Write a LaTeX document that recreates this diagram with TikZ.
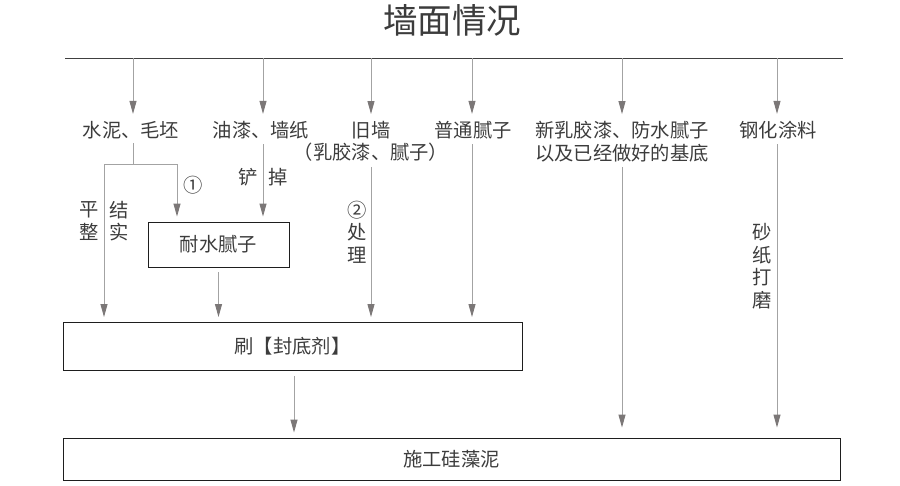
\documentclass[tikz,border=0pt]{standalone}
\usepackage{fontspec}
\setmainfont{Noto Sans CJK SC}
\usetikzlibrary{arrows.meta,calc,positioning}
\definecolor{lineCol}{HTML}{A3A3A3}
\definecolor{tipCol}{HTML}{7B7777}
\definecolor{txtCol}{HTML}{3C3C3C}
\definecolor{boxCol}{HTML}{1E1E1E}
\tikzset{
  lbl/.style={font=\fontsize{19.3}{22.5}\selectfont, text=txtCol, align=center, inner sep=2pt},
  side/.style={lbl, inner sep=0pt},
  box/.style={draw=boxCol, line width=0.9pt, lbl},
  link/.style={lineCol, line width=0.9pt},
  arr/.style={link, -{Triangle[length=13pt,width=7pt,color=tipCol]}, shorten >=5pt},
  topline/.style={draw=boxCol!85, line width=1pt},
}

\begin{document}
\begin{tikzpicture}[x=1pt,y=-1pt]
  \useasboundingbox (0,0) rectangle (900,485);
  % title and top rail
  \node[lbl, font=\fontsize{34.5}{40}\selectfont] (title) at (452,20) {墙面情况};
  \coordinate (topL) at (65,58);
  \coordinate (topR) at (843,58);
  \draw[topline] (topL) -- (topR);
  \coordinate (t1) at (133,58);
  \coordinate (t2) at (263,58);
  \coordinate (t3) at (371,58);
  \coordinate (t4) at (472,58);
  \coordinate (t5) at (622,58);
  \coordinate (t6) at (777,58);

  % wall types
  \node[lbl] (cement)  at (131,130) {水泥、毛坯};
  \node[lbl] (painted) at (261,130) {油漆、墙纸};
  \node[lbl] (oldwall) at (371,141.5) {旧墙\\（乳胶漆、腻子）};
  \node[lbl] (putty)   at (473,130) {普通腻子};
  \node[lbl] (latex)   at (622,141.5) {新乳胶漆、防水腻子\\以及已经做好的基底};
  \node[lbl] (steel)   at (778,130) {钢化涂料};

  % boxes
  \node[box, minimum width=141pt, minimum height=45pt] (wpputty) at (218.5,244.5) {耐水腻子};
  \node[box, minimum width=459pt, minimum height=48pt] (sealer)  at (292.5,346.5) {刷【封底剂】};
  \node[box, minimum width=777pt, minimum height=42pt] (diatom)  at (451.5,459) {施工硅藻泥};

  % step notes
  \node[side] (flat)   at (89,221)  {平\\整};
  \node[side] (solid)  at (119,221) {结\\实};
  \node[side] (stepA)  at (193,185) {①};
  \node[side] (scrapeA) at (248,177) {铲};
  \node[side] (scrapeB) at (278,177) {掉};
  \node[side] (treat)  at (357,232) {②\\处\\理};
  \node[side] (sand)   at (762,266) {砂\\纸\\打\\磨};

  % rail to wall types
  \foreach \t/\n in {t1/cement,t2/painted,t3/oldwall,t4/putty,t5/latex,t6/steel}
    \draw[arr] (\t) -- (\t |- \n.north);

  % cement branch
  \coordinate (sl) at (104,164);
  \coordinate (sr) at (177,164);
  \draw[link, shorten <=2pt] (t1 |- cement.south) -- (t1 |- sl);
  \draw[link] (sl) -- (sr);
  \draw[arr] (sl) -- (sl |- sealer.north);
  \draw[arr] (sr) -- (sr |- wpputty.north);

  % down to sealer
  \draw[arr, shorten <=3pt] (t2 |- painted.south) -- (t2 |- wpputty.north);
  \draw[arr, shorten <=5pt] (wpputty.south) -- (wpputty.south |- sealer.north);
  \draw[arr, shorten <=3pt] (oldwall.south) -- (oldwall.south |- sealer.north);
  \draw[arr, shorten <=3pt] (t4 |- putty.south) -- (t4 |- sealer.north);

  % down to diatom mud
  \draw[arr, shorten <=5pt] ([xshift=1.5pt]sealer.south) -- ([xshift=1.5pt]sealer.south |- diatom.north);
  \draw[arr, shorten <=3pt, shorten >=10pt] (latex.south) -- (latex.south |- diatom.north);
  \draw[arr, shorten <=3pt, shorten >=10pt] (t6 |- steel.south) -- (t6 |- diatom.north);
\end{tikzpicture}
\end{document}
